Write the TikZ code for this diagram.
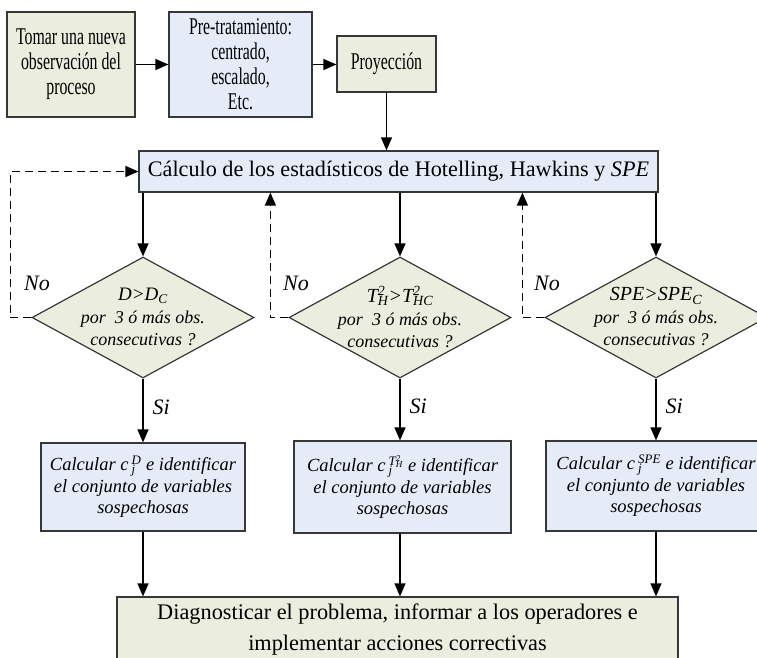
\documentclass[tikz,border=0pt]{standalone}
\usepackage{fontspec}
\setmainfont{Liberation Serif}
\newfontfamily\condfont[FakeStretch=0.66]{Liberation Serif}
\usetikzlibrary{arrows.meta,shapes.geometric}

\definecolor{boxgreen}{RGB}{235,238,222}
\definecolor{boxblue}{RGB}{230,236,247}
\definecolor{boxline}{RGB}{55,55,55}

% stacked superscript/subscript in text mode
\newcommand\supsub[2]{{\setbox0=\hbox{\textsuperscript{#1}}\setbox2=\hbox{\textsubscript{#2}}%
  \ifdim\wd0>\wd2 \rlap{\box2}\box0 \else\rlap{\box0}\box2 \fi}}

\tikzset{
  basebox/.style={draw=boxline, line width=1.2pt, inner sep=0pt, align=center},
  greenbox/.style={basebox, fill=boxgreen},
  bluebox/.style={basebox, fill=boxblue},
  toptext/.style={font=\fontsize{24}{25}\condfont},
  calctext/.style={font=\fontsize{18.5}{21.5}\selectfont\itshape},
  decision/.style={diamond, draw=boxline, fill=boxgreen, line width=1.2pt,
    minimum width=222pt, minimum height=121pt, inner sep=0pt},
  dtext/.style={align=center, inner sep=0pt, font=\fontsize{18}{22.5}\selectfont\itshape},
  flow/.style={line width=1.2pt, -{Triangle[length=13pt,width=11pt]}},
  feedback/.style={flow, line width=1.3pt, dash pattern=on 8pt off 5pt},
  answer/.style={font=\fontsize{22}{25}\selectfont\itshape, inner sep=0pt}
}

\begin{document}
\begin{tikzpicture}[x=1pt,y=-1pt]
\clip (0,0) rectangle (757,658);

% top row
\node[greenbox, toptext, minimum width=128pt, minimum height=105pt] (obs) at (71,64.5)
  {Tomar una nueva\\observación del\\proceso};
\node[bluebox, toptext, minimum width=143pt, minimum height=105pt] (pre) at (240.5,64.5)
  {Pre-tratamiento:\\centrado,\\escalado,\\Etc.};
\node[greenbox, toptext, minimum width=99pt, minimum height=56pt] (proy) at (386.5,64)
  {Proyección};

% statistics
\node[bluebox, font=\fontsize{22.2}{25}\selectfont, minimum width=519pt, minimum height=41pt] (calc) at (398.5,171.5)
  {Cálculo de los estadísticos de Hotelling, Hawkins y \textit{SPE}};

% decisions
\node[decision] (d1) at (143,317.5) {};
\node[dtext] at (143,317) {{\fontsize{19}{22}\selectfont D>D\textsubscript{C}}\\por~ 3 ó más obs.\\consecutivas ?};
\node[decision] (d2) at (400,317.5) {};
\node[dtext] at (400,317) {{\fontsize{20}{22}\selectfont T\supsub{2}{H}>T\supsub{2}{HC}}\\por~ 3 ó más obs.\\consecutivas ?};
\node[decision] (d3) at (656,317.5) {};
\node[dtext] at (656,317) {{\fontsize{20}{22}\selectfont SPE>SPE\textsubscript{C}}\\por~ 3 ó más obs.\\consecutivas ?};

% contributions
\node[bluebox, calctext, minimum width=204pt, minimum height=88pt] (c1) at (143,487)
  {Calcular c\,\supsub{D}{j} e identificar\\el conjunto de variables\\sospechosas};
\node[bluebox, calctext, minimum width=217pt, minimum height=92pt] (c2) at (402.5,487)
  {Calcular c\,\supsub{T\supsub{2}{H}}{j} e identificar\\el conjunto de variables\\sospechosas};
\node[bluebox, calctext, minimum width=220pt, minimum height=90pt] (c3) at (656,486)
  {Calcular c\,\supsub{SPE}{j} e identificar\\el conjunto de variables\\sospechosas};

% diagnosis
\node[greenbox, font=\fontsize{22.3}{31}\selectfont, minimum width=561pt, minimum height=66pt] (diag) at (397.5,630)
  {Diagnosticar el problema, informar a los operadores e\\implementar acciones correctivas};

% main flow
\draw[flow] (obs.east) -- (pre.west);
\draw[flow] (pre.east) -- (pre.east -| proy.west);
\draw[flow] (proy.south) -- (proy.south |- calc.north);
\foreach \d/\c in {d1/c1, d2/c2, d3/c3}{
  \draw[flow] (calc.south -| \d.north) -- (\d.north);
  \draw[flow] (\d.south) -- node[answer, right=9pt, pos=0.45] {Si} (\c.north -| \d.south);
  \draw[flow] (\c.south -| \d.south) -- (diag.north -| \d.south);
}

% feedback when the limit is not exceeded
\draw[feedback] (d1.west) -- ++(-21,0) coordinate (f1) |- (calc.west);
\draw[feedback] (d2.west) -- ++(-18,0) coordinate (f2) -- (f2 |- calc.south);
\draw[feedback] (d3.west) -- ++(-22,0) coordinate (f3) -- (f3 |- calc.south);
\node[answer] at (37,283) {No};
\node[answer] at (296,283) {No};
\node[answer] at (547,283) {No};
\end{tikzpicture}
\end{document}
